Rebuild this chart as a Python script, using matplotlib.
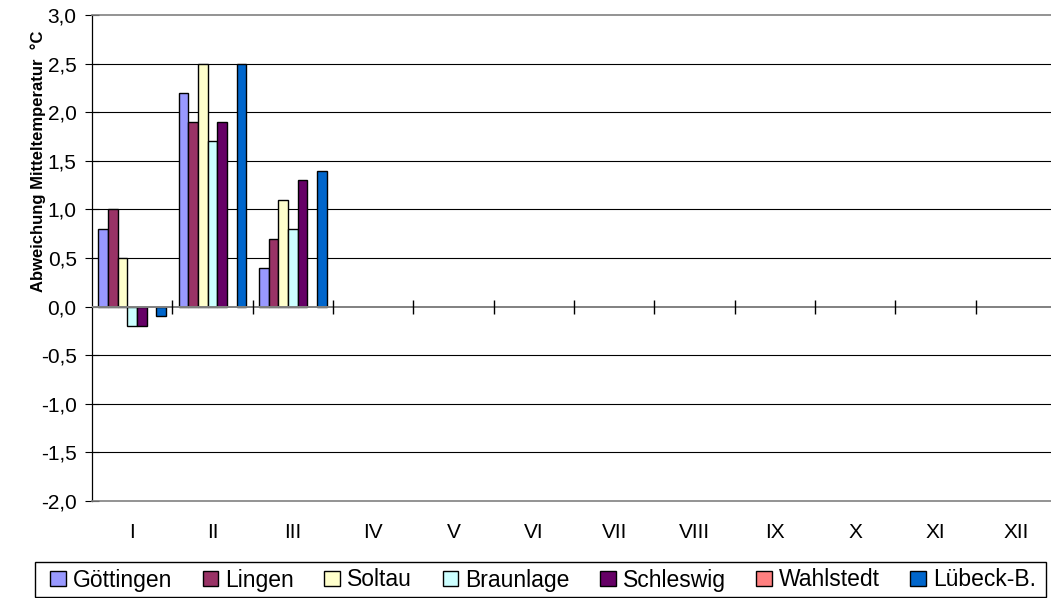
import numpy as np
import matplotlib
matplotlib.use("Agg")
import matplotlib.pyplot as plt
from matplotlib.patches import Rectangle, Patch

plt.rcParams['font.family'] = ['Liberation Sans', 'DejaVu Sans']

months = ["I", "II", "III", "IV", "V", "VI", "VII", "VIII", "IX", "X", "XI", "XII"]
stations = ["Göttingen", "Lingen", "Soltau", "Braunlage", "Schleswig", "Wahlstedt", "Lübeck-B."]
colors = ["#9999FF", "#993366", "#FFFFCC", "#CCFFFF", "#660066", "#FF8080", "#0066CC"]
nan = np.nan
goettingen = [0.8, 2.2, 0.4] + [nan] * 9
lingen = [1.0, 1.9, 0.7] + [nan] * 9
soltau = [0.5, 2.5, 1.1] + [nan] * 9
braunlage = [-0.2, 1.7, 0.8] + [nan] * 9
schleswig = [-0.2, 1.9, 1.3] + [nan] * 9
wahlstedt = [nan] * 12
luebeck = [-0.1, 2.5, 1.4] + [nan] * 9
series = [goettingen, lingen, soltau, braunlage, schleswig, wahlstedt, luebeck]
yticks = [-2.0, -1.5, -1.0, -0.5, 0.0, 0.5, 1.0, 1.5, 2.0, 2.5, 3.0]

W, H = 1051, 598
fig = plt.figure(figsize=(W / 100, H / 100), dpi=100)
ax = fig.add_axes([92 / W, 97 / H, (1056 - 92) / W, 486 / H])

x = np.arange(len(months))
bw = 0.12
n = len(series)
for i, (vals, c) in enumerate(zip(series, colors)):
    ax.bar(x + (i - (n - 1) / 2) * bw, vals, width=bw, color=c,
           edgecolor="black", linewidth=1.0, zorder=3)

ax.set_xlim(-0.5, len(months) - 0.5)
ax.set_ylim(-2.0, 3.0)
ax.set_yticks(yticks)
ax.set_yticklabels([f"{v:.1f}".replace(".", ",") for v in yticks], fontsize=15)
for v in yticks[1:-1]:
    if v != 0.0:
        ax.axhline(v, color="black", linewidth=0.8, zorder=1)
ax.axhline(0.0, color="#808080", linewidth=1.4, zorder=4)
ax.plot(x[:-1] + 0.5, np.zeros(len(x) - 1), linestyle="none", marker="|",
        markersize=10, markeredgewidth=1.0, color="black", zorder=5, clip_on=False)

ax.set_xticks(x)
ax.set_xticklabels(months, fontsize=15)
ax.tick_params(axis="x", length=0, pad=16)
ax.tick_params(axis="y", direction="inout", length=10, width=0.8, pad=6)

ax.spines["right"].set_visible(False)
ax.spines["left"].set_color("black")
ax.spines["left"].set_linewidth(0.9)
for s in ["top", "bottom"]:
    ax.spines[s].set_color("#808080")
    ax.spines[s].set_linewidth(1.2)

fig.text(38 / W, 1 - 161 / H, "Abweichung Mitteltemperatur  °C", rotation=90,
         ha="center", va="center", fontsize=12, fontweight="bold")

handles = [Patch(facecolor=c, edgecolor="black", linewidth=1.0) for c in colors]
leg = fig.legend(handles, stations, loc="center left",
                 bbox_to_anchor=(50 / W, 1 - 580 / H), ncol=7, frameon=False,
                 fontsize=16.5, handlelength=0.68, handleheight=0.68,
                 handletextpad=0.3, columnspacing=1.34, borderpad=0,
                 borderaxespad=0)
fig.patches.append(Rectangle((35 / W, 1 / H), (1046 - 35) / W, 35 / H,
                             transform=fig.transFigure, fill=False,
                             edgecolor="black", linewidth=1.0))

fig.savefig("out.png", dpi=100)
